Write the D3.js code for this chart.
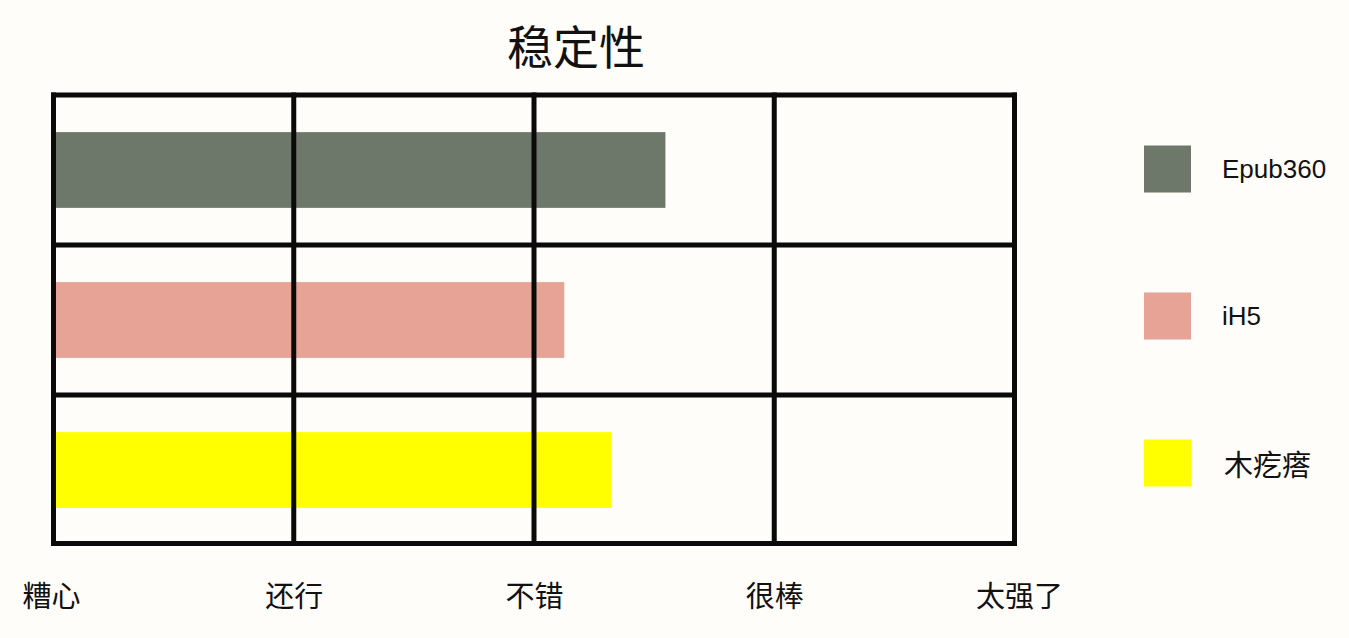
<!DOCTYPE html>
<html>
<head>
<meta charset="utf-8">
<script src="https://cdn.jsdelivr.net/npm/d3@7"></script>
<style>
  html, body { margin: 0; padding: 0; background: #fffdf9; }
  svg { display: block; }
</style>
</head>
<body>
<svg id="chart" width="1349" height="638"></svg>
<script>
const title = "稳定性";
const categories = ["Epub360", "iH5", "木疙瘩"];
const values = [2.547, 2.126, 2.322];
const colors = ["#6d786b", "#e6a396", "#ffff00"];
const tickValues = [0, 1, 2, 3, 4];
const tickLabels = ["糟心", "还行", "不错", "很棒", "太强了"];

const svg = d3.select("#chart");
const W = 1349, H = 638;
const plot = { left: 53.5, right: 1014.5, top: 95, bottom: 543.5 };

const x = d3.scaleLinear().domain([0, 4]).range([plot.left, plot.right]);
const y = d3.scaleBand().domain(categories).range([plot.top, plot.bottom + 1.5]).padding(0);
const barH = y.bandwidth() * 0.505;

svg.append("rect").attr("width", W).attr("height", H).attr("fill", "#fffdf9");

// title
svg.append("text")
  .attr("x", 576).attr("y", 44)
  .attr("text-anchor", "middle")
  .attr("dominant-baseline", "central")
  .attr("font-family", "'Noto Sans CJK SC', sans-serif")
  .attr("font-size", 46)
  .attr("fill", "#111")
  .text(title);

// bars
svg.append("g").selectAll("rect")
  .data(categories)
  .join("rect")
  .attr("x", x(0))
  .attr("y", d => y(d) + (y.bandwidth() - barH) / 2)
  .attr("width", (d, i) => x(values[i]) - x(0))
  .attr("height", barH)
  .attr("fill", (d, i) => colors[i]);

// grid
const grid = svg.append("g").attr("stroke", "#0a0a0a").attr("stroke-width", 5).attr("fill", "none");
grid.selectAll("line.v")
  .data(tickValues)
  .join("line")
  .attr("class", "v")
  .attr("x1", d => x(d)).attr("x2", d => x(d))
  .attr("y1", plot.top - 2.5).attr("y2", plot.bottom + 2.5);
const hLines = categories.map(c => y(c)).concat([plot.bottom]);
grid.selectAll("line.h")
  .data(hLines)
  .join("line")
  .attr("class", "h")
  .attr("x1", x(0) - 2.5).attr("x2", x(4) + 2.5)
  .attr("y1", d => d).attr("y2", d => d);

// x tick labels
svg.append("g").selectAll("text")
  .data(tickValues)
  .join("text")
  .attr("x", (d, i) => x(d) + (i === 0 ? -2 : (i === tickValues.length - 1 ? 5 : 0.5)))
  .attr("y", 594)
  .attr("text-anchor", "middle")
  .attr("dominant-baseline", "central")
  .attr("font-family", "'Noto Sans CJK SC', sans-serif")
  .attr("font-size", 29)
  .attr("fill", "#111")
  .text((d, i) => tickLabels[i]);

// legend
const ly = d3.scalePoint().domain(categories).range([169, 463]);
const legend = svg.append("g").selectAll("g")
  .data(categories)
  .join("g")
  .attr("transform", d => `translate(1144, ${ly(d)})`);
legend.append("rect")
  .attr("x", 0).attr("y", -23.5)
  .attr("width", 47).attr("height", 47)
  .attr("fill", (d, i) => colors[i]);
legend.append("text")
  .attr("x", d => /^[\x00-\x7f]+$/.test(d) ? 78 : 80)
  .attr("y", 0)
  .attr("dominant-baseline", "central")
  .attr("font-family", d => /^[\x00-\x7f]+$/.test(d) ? "'Liberation Sans', sans-serif" : "'Noto Sans CJK SC', sans-serif")
  .attr("font-size", d => /^[\x00-\x7f]+$/.test(d) ? 26 : 29)
  .attr("fill", "#111")
  .text(d => d);
</script>
</body>
</html>
